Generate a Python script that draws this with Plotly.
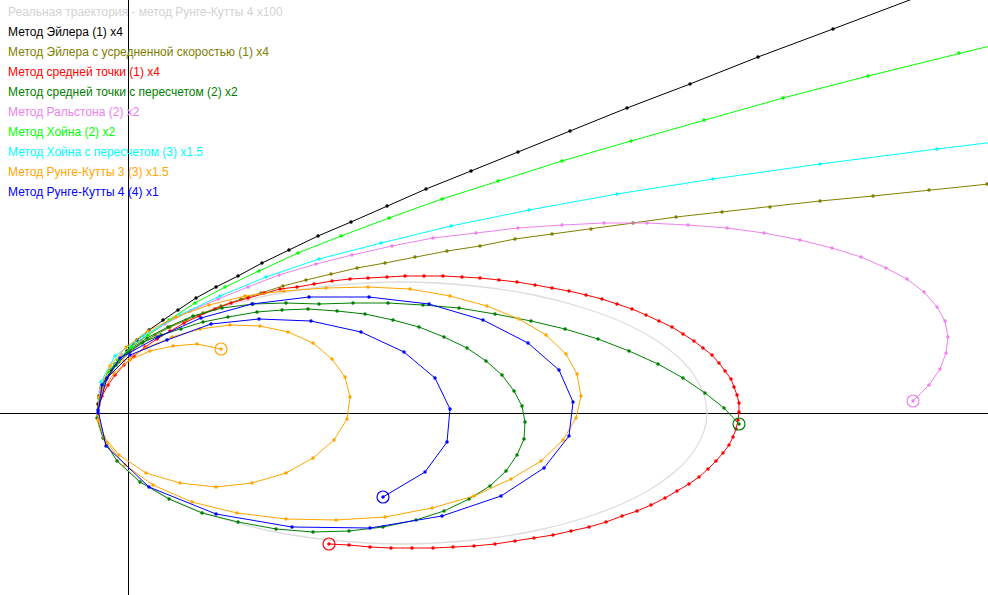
import plotly.graph_objects as go

# Orbit data in the chart's own units (origin = attracting centre)
real_x = [-31, -28, -18, -3, 22, 52, 92, 142, 202, 274, 346, 406, 456, 496, 526, 551, 566, 576, 579,
          576, 566, 551, 526, 496, 456, 406, 346, 274, 202, 142, 92, 52, 22, -3, -18, -28, -31]
real_y = [0, 18, 38, 55, 74, 90, 105, 118, 127, 131, 127, 118, 105, 90, 74, 55, 38, 18, 0,
          -18, -38, -55, -74, -90, -105, -118, -127, -131, -127, -118, -105, -90, -74, -55, -38, -18, 0]

euler_x = [-30, -30, -29, -27, -22, -17, -10, -1, 9, 21, 35, 50, 68, 88, 110, 134, 161, 190, 223, 259,
           298, 343, 390, 442, 499, 562, 630, 705, 787]
euler_y = [0, 9, 17, 25, 34, 43, 52, 62, 73, 83, 93, 103, 115, 126, 137, 150, 163, 177, 191, 207,
           224, 242, 261, 282, 305, 329, 356, 384, 415]

euler_avg_x = [-30, -28, -24, -18, -9, 2, 14, 27, 42, 58, 75, 93, 113, 133, 155, 178, 203, 229, 257, 287,
               319, 352, 387, 424, 463, 505, 548, 594, 642, 692, 745, 801, 859, 919]
euler_avg_y = [0, 15, 28, 40, 51, 61, 70, 78, 86, 93, 100, 107, 114, 120, 127, 133, 139, 145, 150, 156,
               162, 167, 174, 179, 184, 190, 196, 201, 206, 212, 217, 223, 229, 235]

mid_x = [-30, -29, -26, -20, -13, -4, 6, 17, 29, 42, 56, 71, 87, 103, 120, 136, 152, 169, 186, 204,
         222, 240, 259, 277, 296, 315, 334, 352, 371, 389, 407, 424, 441, 458, 474, 489, 504, 518, 531, 544,
         555, 566, 575, 584, 591, 597, 603, 606, 609, 611, 611, 610, 608, 605, 601, 595, 588, 580, 571, 561,
         549, 537, 523, 509, 494, 478, 461, 443, 425, 406, 387, 367, 346, 325, 305, 284, 263, 242, 221, 201]
mid_y = [0, 8, 17, 28, 38, 48, 57, 66, 74, 82, 90, 97, 104, 110, 115, 120, 124, 126, 129, 132,
         134, 135, 136, 137, 137, 137, 136, 135, 133, 131, 128, 125, 122, 118, 114, 109, 104, 98, 92, 86,
         79, 72, 65, 58, 50, 42, 34, 26, 18, 10, 1, -7, -16, -24, -32, -40, -48, -56, -64, -71,
         -78, -85, -92, -98, -103, -109, -114, -118, -122, -125, -128, -131, -133, -134, -135, -135, -135, -134, -132, -131]

mid_rc_x = [-30, -28, -22, -12, 0, 15, 33, 53, 75, 100, 129, 154, 180, 209, 237, 265, 291, 316, 339, 358,
            374, 386, 394, 397, 396, 389, 378, 362, 341, 316, 288, 255, 221, 185, 148, 110, 74, 41, 12, -11,
            -25, -31, -29, -23, -13, 1, 19, 40, 65, 94, 125, 158, 191, 225, 260, 295, 331, 367, 403, 437,
            470, 501, 530, 555, 577, 596, 611]
mid_rc_y = [0, 17, 33, 48, 61, 71, 78, 84, 91, 96, 101, 103, 104, 102, 99, 93, 86, 76, 65, 52,
            38, 22, 7, -9, -26, -42, -58, -73, -86, -98, -107, -114, -118, -119, -116, -109, -100, -86, -69, -48,
            -25, -5, 15, 33, 49, 63, 75, 86, 97, 105, 109, 110, 109, 110, 110, 108, 105, 99, 92, 84,
            74, 62, 49, 35, 20, 5, -11]

ralston_x = [-30, -28, -20, -6, 13, 37, 62, 90, 120, 151, 188, 224, 264, 305, 348, 390, 434, 476, 519, 560,
             599, 636, 672, 704, 733, 758, 779, 796, 809, 817, 820, 818, 812, 801, 785]
ralston_y = [0, 21, 41, 58, 73, 89, 102, 114, 126, 138, 149, 158, 167, 175, 180, 185, 188, 190, 190, 188,
             185, 180, 173, 165, 156, 145, 134, 121, 106, 92, 76, 60, 44, 28, 12]

heun_x = [-30, -29, -26, -20, -10, 3, 20, 41, 67, 97, 131, 170, 213, 261, 314, 370, 434, 503, 576, 655,
          740, 831, 927]
heun_y = [0, 15, 28, 41, 53, 66, 78, 93, 110, 126, 142, 160, 177, 195, 214, 232, 252, 272, 293, 315,
          337, 360, 383]

heun_rc_x = [-30, -27, -13, 15, 52, 92, 138, 191, 253, 323, 401, 489, 585, 692, 809, 932]
heun_rc_y = [0, 31, 57, 77, 98, 117, 136, 154, 170, 187, 203, 219, 234, 249, 264, 279]

rk3_x = [-30, -27, -18, -2, 20, 48, 81, 117, 156, 198, 240, 282, 322, 359, 391, 418, 438, 449, 453, 448,
         435, 413, 383, 346, 304, 257, 208, 158, 109, 64, 25, -3, -21, -30,
         -29, -20, -4, 18, 44, 72, 102, 132, 160, 185, 204, 217, 222, 219, 206, 185, 158, 124, 88, 52,
         18, -9, -24, -30,
         -26, -14, 2, 22, 45, 69, 93]
rk3_y = [0, 25, 47, 66, 82, 96, 108, 117, 122, 125, 126, 124, 117, 107, 94, 78, 59, 39, 17, -5,
         -27, -48, -66, -83, -95, -104, -107, -106, -100, -89, -72, -52, -30, -7,
         16, 36, 52, 65, 76, 84, 88, 87, 81, 70, 54, 36, 16, -6, -27, -45, -60, -70, -74, -70,
         -60, -42, -24, -2,
         21, 40, 53, 62, 67, 69, 64]

rk4_x = [-30, -26, -8, 30, 73, 124, 181, 241, 301, 355, 400, 431, 445, 441, 416, 373, 314, 242, 164, 88,
         21, -22, -30, -21, 2, 39, 83, 131, 183, 233, 276, 307, 322, 319, 297, 255]
rk4_y = [0, 28, 55, 76, 95, 109, 116, 116, 109, 93, 70, 43, 11, -23, -55, -83, -103, -115, -114, -101,
         -74, -33, 3, 35, 58, 73, 89, 94, 92, 81, 61, 35, 4, -29, -59, -84]

labels = [
    "Реальная траектория - метод Рунге-Кутты 4 x100",
    "Метод Эйлера (1) x4",
    "Метод Эйлера с усредненной скоростью (1) x4",
    "Метод средней точки (1) x4",
    "Метод средней точки с пересчетом (2) x2",
    "Метод Ральстона (2) x2",
    "Метод Хойна (2) x2",
    "Метод Хойна с пересчетом (3) x1.5",
    "Метод Рунге-Кутты 3 (3) x1.5",
    "Метод Рунге-Кутты 4 (4) x1",
]
colors = ["#d3d3d3", "#000000", "#808000", "#ff0000", "#008000",
          "#ee82ee", "#00ff00", "#00ffff", "#ffa500", "#0000ff"]

X_RANGE = [-128, 860]
Y_RANGE = [-182, 413]

series = [
    (euler_x, euler_y), (euler_avg_x, euler_avg_y), (mid_x, mid_y), (mid_rc_x, mid_rc_y),
    (ralston_x, ralston_y), (heun_x, heun_y), (heun_rc_x, heun_rc_y), (rk3_x, rk3_y), (rk4_x, rk4_y),
]

fig = go.Figure()

fig.add_trace(go.Scatter(
    x=real_x, y=real_y, mode="lines", line=dict(color="#dddddd", width=1.3, shape="spline"),
    showlegend=False, hoverinfo="skip"
))

for (xs, ys), col in zip(series, colors[1:]):
    fig.add_trace(go.Scatter(
        x=xs, y=ys, mode="lines+markers",
        line=dict(color=col, width=1),
        marker=dict(color=col, size=3.5),
        showlegend=False
    ))
    # end-of-run marker, only if the run ends inside the view
    if X_RANGE[0] < xs[-1] < X_RANGE[1] and Y_RANGE[0] < ys[-1] < Y_RANGE[1]:
        fig.add_trace(go.Scatter(
            x=[xs[-1]], y=[ys[-1]], mode="markers",
            marker=dict(symbol="circle-open", color=col, size=12, line=dict(width=1.2)),
            showlegend=False, hoverinfo="skip"
        ))

for i, (txt, col) in enumerate(zip(labels, colors)):
    fig.add_annotation(
        x=6 / 988, y=1 - (12 + 20 * i) / 595, xref="paper", yref="paper",
        text=txt, showarrow=False, xanchor="left", yanchor="middle",
        font=dict(color=col, size=12, family="Liberation Sans, Arial")
    )

fig.update_layout(
    width=988,
    height=595,
    margin=dict(l=0, r=0, t=0, b=0),
    plot_bgcolor="white",
    paper_bgcolor="white",
    showlegend=False,
    xaxis=dict(range=X_RANGE, showgrid=False, showticklabels=False, ticks="",
               zeroline=True, zerolinecolor="black", zerolinewidth=1, fixedrange=True),
    yaxis=dict(range=Y_RANGE, showgrid=False, showticklabels=False, ticks="",
               zeroline=True, zerolinecolor="black", zerolinewidth=1, fixedrange=True),
)

fig.write_html("out.html", post_script="document.body.style.margin='0';",
               config={"displayModeBar": False})
